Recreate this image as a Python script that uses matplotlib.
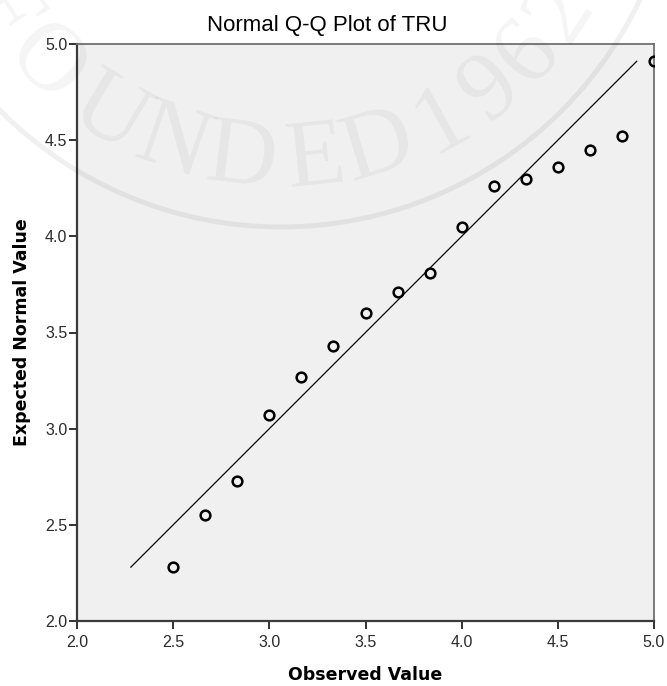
#!/usr/bin/env python3
"""
Normal Q-Q plot of TRU (observed vs. expected normal values)
"""

import numpy as np
import matplotlib
matplotlib.use('Agg')
import matplotlib.pyplot as plt
from matplotlib.patches import Circle
from matplotlib.transforms import IdentityTransform

# Observed scores and the expected normal quantiles for each
observed = [2.5, 2.667, 2.833, 3.0, 3.167, 3.333, 3.5, 3.667,
            3.833, 4.0, 4.167, 4.333, 4.5, 4.667, 4.833, 5.0]
expected = [2.28, 2.55, 2.73, 3.07, 3.27, 3.43, 3.60, 3.71,
            3.81, 4.05, 4.26, 4.30, 4.36, 4.45, 4.52, 4.91]

ticks = [2.0, 2.5, 3.0, 3.5, 4.0, 4.5, 5.0]
tick_labels = ['2.0', '2.5', '3.0', '3.5', '4.0', '4.5', '5.0']

# Seal watermark text and angle (degrees) of each letter around the ring
seal_text = 'FOUNDED 1962'
seal_angles = [213, 225, 239, 251, 263, 276, 287, None, 299, 309, 318, 327]

W, H = 667, 686


def draw_watermark(fig):
    """Faint circular seal lettering over the chart"""
    cx, cy = 281, H + 170          # ring centre in display pixels
    ring = Circle((cx, cy), 397, transform=IdentityTransform(), fill=False,
                  edgecolor='black', alpha=0.06, linewidth=3.6, zorder=5)
    fig.add_artist(ring)

    r_text = 334
    for ch, ang in zip(seal_text, seal_angles):
        if ang is None or ch == ' ':
            continue
        t = np.deg2rad(ang)
        x = cx + r_text * np.cos(t)
        y = cy + r_text * np.sin(t)
        fig.text(x / W, y / H, ch, fontsize=70, family='Liberation Serif',
                 color='black', alpha=0.045, rotation=ang - 270,
                 ha='center', va='center', rotation_mode='anchor', zorder=5)


def create_qq_plot():
    fig = plt.figure(figsize=(W / 100, H / 100), dpi=100)
    ax = fig.add_axes([77 / W, 1 - 621 / H, (654 - 77) / W, (621 - 44) / H])
    ax.set_facecolor('#f0f0f0')

    # Reference line y = x between the smallest and largest expected value
    ref = [min(expected), max(expected)]
    ax.plot(ref, ref, color='black', linewidth=0.9, zorder=2)

    ax.plot(observed, expected, linestyle='none', marker='o', markersize=7,
            markerfacecolor='none', markeredgecolor='black',
            markeredgewidth=1.8, zorder=3)

    ax.set_xlim(2.0, 5.0)
    ax.set_ylim(2.0, 5.0)
    ax.set_xticks(ticks)
    ax.set_yticks(ticks)
    ax.set_xticklabels(tick_labels, family='Liberation Sans', fontsize=11.5,
                       color='#2b2b2b')
    ax.set_yticklabels(tick_labels, family='Liberation Sans', fontsize=11.5,
                       color='#2b2b2b')
    ax.tick_params(axis='x', direction='out', length=6, width=1.4,
                   color='#333333', pad=4)
    ax.tick_params(axis='y', direction='out', length=6, width=1.4,
                   color='#333333', pad=1)

    for side in ('left', 'bottom'):
        ax.spines[side].set_color('#3a3a3a')
        ax.spines[side].set_linewidth(1.6)
    for side in ('top', 'right'):
        ax.spines[side].set_color('#707070')
        ax.spines[side].set_linewidth(1.3)

    fig.text(327 / W, 1 - 25 / H, 'Normal Q-Q Plot of TRU',
             family='Liberation Sans', fontsize=16, ha='center', va='center')
    fig.text(365 / W, 1 - 675 / H, 'Observed Value', family='DejaVu Sans',
             fontweight='bold', fontsize=12.5, ha='center', va='center')
    fig.text(22 / W, 1 - 332 / H, 'Expected Normal Value', family='DejaVu Sans',
             fontweight='bold', fontsize=12.5, rotation=90,
             ha='center', va='center')

    draw_watermark(fig)
    return fig


if __name__ == "__main__":
    fig = create_qq_plot()
    fig.savefig('out.png', dpi=100, facecolor='white')
